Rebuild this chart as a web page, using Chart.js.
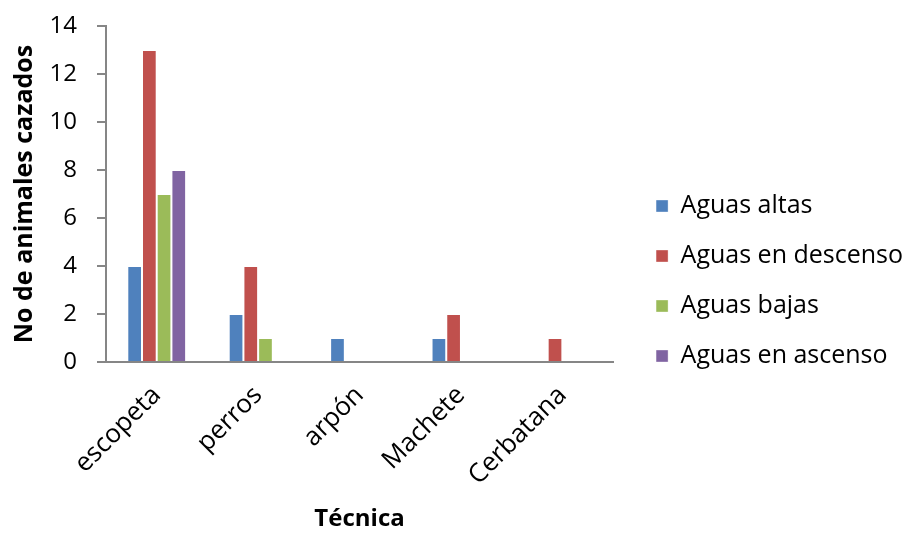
<!DOCTYPE html>
<html>
<head>
<meta charset="utf-8">
<script src="https://cdn.jsdelivr.net/npm/chart.js@4/dist/chart.umd.min.js"></script>
<style>
html,body{margin:0;padding:0;background:#fff;}
#wrap{width:908px;height:534px;position:relative;}
</style>
</head>
<body>
<div id="wrap"><canvas id="c" width="908" height="534"></canvas></div>
<script>
const categories = ["escopeta", "perros", "arpón", "Machete", "Cerbatana"];
const seriesNames = ["Aguas altas", "Aguas en descenso", "Aguas bajas", "Aguas en ascenso"];
const aguasAltas = [4, 2, 1, 1, null];
const aguasDescenso = [13, 4, null, 2, 1];
const aguasBajas = [7, 1, null, null, null];
const aguasAscenso = [8, null, null, null, null];
const colors = ["#4F81BD", "#C0504D", "#9BBB59", "#8064A2"];
const yTicks = [0, 2, 4, 6, 8, 10, 12, 14];

const FONT = "'Open Sans', 'Noto Sans', sans-serif";
const seriesData = [aguasAltas, aguasDescenso, aguasBajas, aguasAscenso];

new Chart(document.getElementById('c'), {
  type: 'bar',
  data: {
    labels: categories,
    datasets: seriesNames.map((n, i) => ({
      label: n,
      data: seriesData[i],
      backgroundColor: colors[i],
      borderColor: 'rgba(255,255,255,0.35)',
      borderWidth: 1,
      barPercentage: 1,
      categoryPercentage: 0.58
    }))
  },
  options: {
    responsive: false,
    animation: false,
    devicePixelRatio: 1,
    layout: { padding: { left: 4, top: 5, right: -5, bottom: 0 } },
    plugins: {
      tooltip: { enabled: false },
      legend: {
        position: 'right',
        align: 'center',
        maxWidth: 400,
        title: { display: true, text: ' ', font: { size: 10 }, padding: 5.5 },
        labels: {
          boxWidth: 12,
          boxHeight: 12,
          padding: 25,
          color: '#000',
          font: { family: FONT, size: 25 }
        }
      }
    },
    scales: {
      x: {
        grid: { display: false, drawTicks: false },
        border: { display: true, color: '#868686', width: 2 },
        afterFit: (a) => { a.height = 172; },
        ticks: {
          color: '#000',
          font: { family: FONT, size: 26 },
          maxRotation: 45,
          minRotation: 45,
          padding: 18
        },
        title: {
          display: true,
          text: 'Técnica',
          color: '#000',
          font: { family: FONT, size: 24, weight: 'bold' },
          padding: { top: 10, bottom: 0 }
        }
      },
      y: {
        min: 0,
        max: 14,
        afterBuildTicks: (axis) => { axis.ticks = yTicks.map(v => ({ value: v })); },
        afterFit: (a) => { a.width = 102; },
        grid: { display: true, drawOnChartArea: false, drawTicks: true, tickLength: 9, color: '#868686', lineWidth: 2 },
        border: { display: true, color: '#868686', width: 2 },
        ticks: {
          color: '#000',
          font: { family: FONT, size: 24, lineHeight: 0.5 },
          padding: 20
        },
        title: {
          display: true,
          text: 'No de animales cazados',
          color: '#000',
          font: { family: FONT, size: 25, weight: 'bold' },
          padding: { top: 6, bottom: 4 }
        }
      },
      y2: {
        position: 'right',
        display: true,
        grid: { display: false, drawTicks: false },
        border: { display: false },
        ticks: { display: false },
        afterFit: (a) => { a.width = 18; }
      }
    }
  }
});
</script>
</body>
</html>
